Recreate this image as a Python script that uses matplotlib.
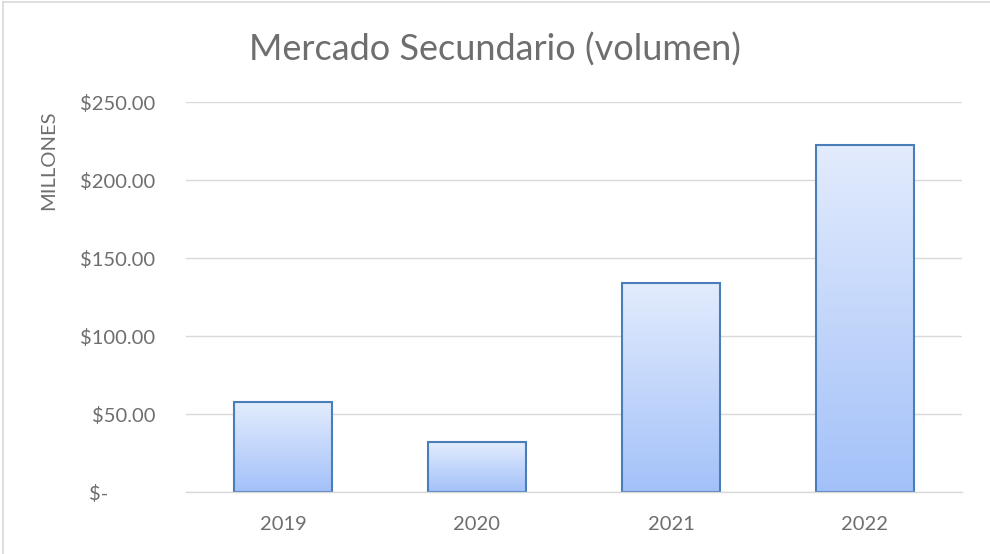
import numpy as np
import matplotlib
matplotlib.use('Agg')
import matplotlib.pyplot as plt
from matplotlib.colors import LinearSegmentedColormap
from matplotlib.transforms import ScaledTranslation
from matplotlib.lines import Line2D

# datos (millones)
anios = ['2019', '2020', '2021', '2022']
volumen = [58, 32, 134, 222.5]
marcas_y = [0, 50, 100, 150, 200, 250]
etiquetas_y = ['$-', '$50.00', '$100.00', '$150.00', '$200.00', '$250.00']

plt.rcParams['font.family'] = ['Lato', 'DejaVu Sans']
gris_texto = '#6e6e6e'
gris_linea = '#d9d9d9'

fig = plt.figure(figsize=(9.9, 5.54), dpi=100)
ax = fig.add_axes([186 / 990, 1 - 492 / 554, (962 - 186) / 990, (492 - 102) / 554])

x = np.arange(len(anios))
barras = ax.bar(x, volumen, width=0.505, facecolor='none', edgecolor='#4a7ebb',
                linewidth=1.5, zorder=3)

# degradado de cada barra (claro arriba, mas oscuro abajo)
degradado = LinearSegmentedColormap.from_list('azul', ['#a3c1f9', '#e3ecfd'])
grad = np.linspace(0, 1, 256).reshape(-1, 1)
for b in barras:
    x0 = b.get_x()
    x1 = x0 + b.get_width()
    h = b.get_height()
    img = ax.imshow(grad, extent=[x0, x1, 0, h], origin='lower', aspect='auto',
                    cmap=degradado, zorder=2)
    img.set_clip_path(b)

ax.set_xlim(-0.5, len(anios) - 0.5)
ax.set_ylim(0, 250)

ax.set_yticks(marcas_y)
ax.set_yticklabels(etiquetas_y)
ax.set_xticks(x)
ax.set_xticklabels(anios)
ax.tick_params(axis='y', length=0, pad=22, labelsize=14.5, labelcolor=gris_texto)
ax.tick_params(axis='x', length=0, pad=17, labelsize=14.5, labelcolor=gris_texto)

# el "$-" va desplazado como en formato contable
lbl = ax.get_yticklabels()[0]
lbl.set_transform(lbl.get_transform() + ScaledTranslation(-0.47, 0, fig.dpi_scale_trans))

ax.grid(axis='y', color=gris_linea, linewidth=1, zorder=0)
ax.set_axisbelow(True)
for s in ['top', 'right', 'left']:
    ax.spines[s].set_visible(False)
ax.spines['bottom'].set_color(gris_linea)
ax.spines['bottom'].set_linewidth(1)
ax.spines['bottom'].set_zorder(4)

fig.text(495 / 990, 1 - 50 / 554, 'Mercado Secundario (volumen)', ha='center', va='center',
         fontsize=26, color=gris_texto)
fig.text(49 / 990, 1 - 160 / 554, 'MILLONES', ha='center', va='center', rotation=90,
         fontsize=14.5, color=gris_texto)

# borde del grafico (solo izquierda y arriba)
fig.add_artist(Line2D([3 / 990, 3 / 990], [0, 1 - 2 / 554], color='#d9d9d9', lw=1.2))
fig.add_artist(Line2D([3 / 990, 1], [1 - 2 / 554, 1 - 2 / 554], color='#d9d9d9', lw=1.2))

fig.savefig('out.png', dpi=100)
